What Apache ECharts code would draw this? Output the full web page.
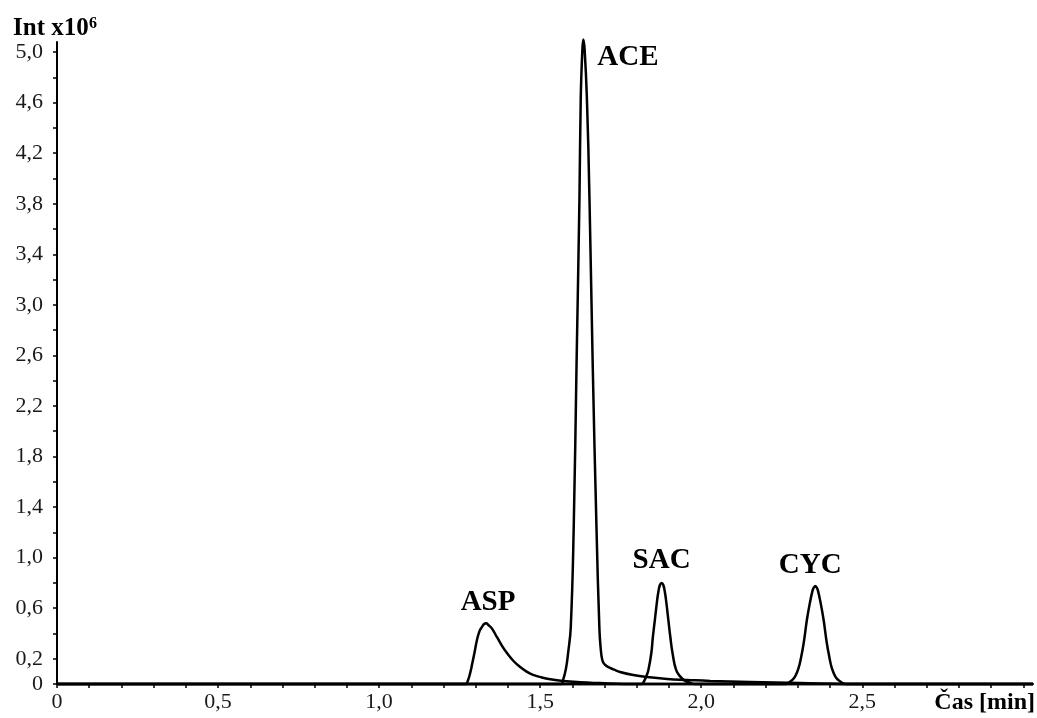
<!DOCTYPE html>
<html>
<head>
<meta charset="utf-8">
<script src="https://cdn.jsdelivr.net/npm/echarts@6/dist/echarts.min.js"></script>
<style>
  html, body { margin: 0; padding: 0; background: #fff; }
  #chart { width: 1037px; height: 718px; }
</style>
</head>
<body>
<div id="chart"></div>
<script>
// Axis ticks and labels (time in min, intensity in 10^6 counts)
const xTickValues = [0, 0.1, 0.2, 0.3, 0.4, 0.5, 0.6, 0.7, 0.8, 0.9, 1.0, 1.1, 1.2, 1.3, 1.4, 1.5,
  1.6, 1.7, 1.8, 1.9, 2.0, 2.1, 2.2, 2.3, 2.4, 2.5, 2.6, 2.7, 2.8, 2.9, 3.0];
const xLabelValues = [0, 0.5, 1.0, 1.5, 2.0, 2.5];
const yTickValues = [0, 0.2, 0.4, 0.6, 0.8, 1.0, 1.2, 1.4, 1.6, 1.8, 2.0, 2.2, 2.4, 2.6, 2.8, 3.0,
  3.2, 3.4, 3.6, 3.8, 4.0, 4.2, 4.4, 4.6, 4.8, 5.0];
const yLabelValues = [0, 0.2, 0.6, 1.0, 1.4, 1.8, 2.2, 2.6, 3.0, 3.4, 3.8, 4.2, 4.6, 5.0];

// Extracted ion traces: [time (min), intensity (x10^6)]
const aspTrace = [
  [0, 0], [1.268, 0], [1.276, 0.03], [1.283, 0.09], [1.289, 0.16], [1.297, 0.26], [1.304, 0.35],
  [1.312, 0.42], [1.319, 0.45], [1.326, 0.475], [1.332, 0.48], [1.340, 0.465], [1.350, 0.44],
  [1.366, 0.37], [1.382, 0.30], [1.397, 0.245], [1.418, 0.18], [1.438, 0.134], [1.458, 0.098],
  [1.478, 0.072], [1.505, 0.052], [1.531, 0.038], [1.571, 0.024], [1.624, 0.014], [1.686, 0.007],
  [1.76, 0], [3.03, 0]
];
const aceTrace = [
  [0, 0], [1.565, 0], [1.571, 0.03], [1.580, 0.12], [1.587, 0.25], [1.595, 0.45], [1.604, 1.22],
  [1.613, 2.54], [1.622, 3.85], [1.626, 4.64], [1.631, 5.02], [1.634, 5.10], [1.638, 5.02],
  [1.645, 4.64], [1.653, 3.85], [1.663, 2.54], [1.675, 1.22], [1.684, 0.43], [1.688, 0.28],
  [1.692, 0.20], [1.697, 0.165], [1.705, 0.145], [1.717, 0.128], [1.730, 0.113], [1.748, 0.095],
  [1.789, 0.071], [1.832, 0.055], [1.894, 0.04], [1.957, 0.032], [2.028, 0.024], [2.152, 0.016],
  [2.307, 0.008], [2.45, 0], [3.03, 0]
];
const sacTrace = [
  [0, 0], [1.815, 0], [1.822, 0.02], [1.829, 0.058], [1.836, 0.111], [1.845, 0.243], [1.850, 0.374],
  [1.856, 0.506], [1.862, 0.638], [1.867, 0.73], [1.872, 0.785], [1.877, 0.80], [1.882, 0.785],
  [1.887, 0.73], [1.892, 0.638], [1.898, 0.506], [1.904, 0.374], [1.911, 0.243], [1.922, 0.111],
  [1.935, 0.058], [1.950, 0.025], [1.965, 0.01], [1.98, 0], [3.03, 0]
];
const cycTrace = [
  [0, 0], [2.262, 0], [2.272, 0.012], [2.282, 0.03], [2.292, 0.062], [2.302, 0.125], [2.310, 0.21],
  [2.318, 0.322], [2.328, 0.506], [2.337, 0.638], [2.346, 0.743], [2.350, 0.765], [2.354, 0.775],
  [2.358, 0.765], [2.362, 0.743], [2.371, 0.638], [2.380, 0.506], [2.390, 0.322], [2.398, 0.21],
  [2.405, 0.13], [2.416, 0.06], [2.426, 0.03], [2.436, 0.012], [2.448, 0], [3.03, 0]
];
const traceNames = ['ASP', 'ACE', 'SAC', 'CYC'];
const traces = [aspTrace, aceTrace, sacTrace, cycTrace];

const SERIF = '"Liberation Serif", "Times New Roman", serif';
const fmt = v => (v === 0 ? '0' : v.toFixed(1).replace('.', ','));

const chart = echarts.init(document.getElementById('chart'), null, { renderer: 'canvas' });

const axisCommon = {
  type: 'value',
  min: 0,
  axisLine: { show: true, onZero: false, lineStyle: { color: '#000', width: 2 } },
  splitLine: { show: false },
  axisLabel: { formatter: fmt, fontFamily: SERIF, fontSize: 22, color: '#1a1a1a' }
};

chart.setOption({
  animation: false,
  backgroundColor: '#fff',
  grid: { left: 57, right: 4, top: 42, bottom: 34 },
  xAxis: Object.assign({}, axisCommon, {
    max: 3.03,
    axisTick: { show: true, customValues: xTickValues, length: 4, lineStyle: { color: '#000', width: 1.5 } },
    axisLabel: Object.assign({}, axisCommon.axisLabel, { customValues: xLabelValues, margin: 7 })
  }),
  yAxis: Object.assign({}, axisCommon, {
    max: 5.08,
    axisTick: { show: true, customValues: yTickValues, length: 4, lineStyle: { color: '#000', width: 1.5 } },
    axisLabel: Object.assign({}, axisCommon.axisLabel, { customValues: yLabelValues, margin: 14 })
  }),
  series: traces.map((d, i) => ({
    name: traceNames[i],
    type: 'line',
    data: d,
    symbol: 'none',
    smooth: 0.45,
    clip: false,
    lineStyle: { color: '#000', width: 2.5 },
    z: 3
  }))
});

// Peak names placed relative to each trace apex
const labelPlacement = {
  ASP: { dx: 2, dy: -21, align: 'center' },
  ACE: { dx: 14, dy: 18, align: 'left' },
  SAC: { dx: 0, dy: -22, align: 'center' },
  CYC: { dx: -5, dy: -21, align: 'center' }
};
const graphics = traces.map((d, i) => {
  const apex = d.reduce((a, b) => (b[1] > a[1] ? b : a));
  const p = chart.convertToPixel({ gridIndex: 0 }, apex);
  const pl = labelPlacement[traceNames[i]];
  return {
    type: 'text',
    x: p[0] + pl.dx,
    y: p[1] + pl.dy,
    style: {
      text: traceNames[i],
      font: 'bold 29px ' + SERIF,
      fill: '#000',
      align: pl.align, textAlign: pl.align,
      verticalAlign: 'middle', textVerticalAlign: 'middle'
    },
    z: 10
  };
});
graphics.push({
  type: 'text', x: 13, y: 29,
  style: { text: 'Int x10', font: 'bold 25px ' + SERIF, fill: '#000',
    align: 'left', textAlign: 'left', verticalAlign: 'middle', textVerticalAlign: 'middle' }
});
graphics.push({
  type: 'text', x: 89, y: 24,
  style: { text: '6', font: 'bold 16px ' + SERIF, fill: '#000',
    align: 'left', textAlign: 'left', verticalAlign: 'middle', textVerticalAlign: 'middle' }
});
graphics.push({
  type: 'text', x: 1035, y: 703,
  style: { text: 'Čas [min]', font: 'bold 24px ' + SERIF, fill: '#000',
    align: 'right', textAlign: 'right', verticalAlign: 'middle', textVerticalAlign: 'middle' }
});
chart.setOption({ graphic: graphics });
</script>
</body>
</html>
